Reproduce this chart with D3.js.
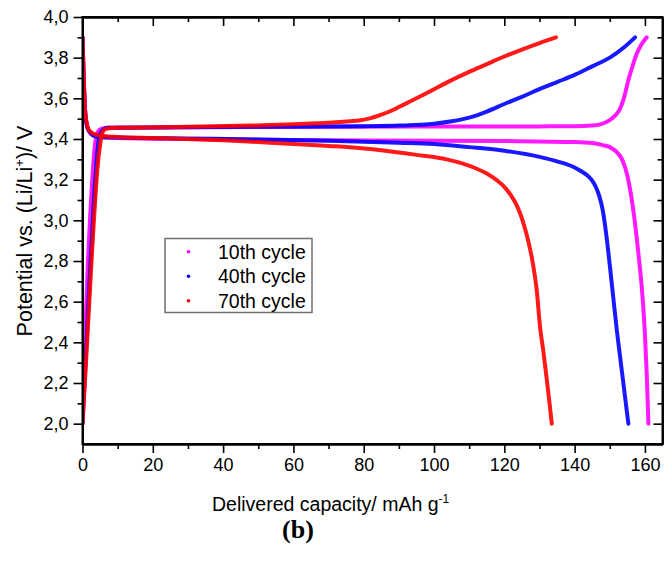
<!DOCTYPE html>
<html>
<head>
<meta charset="utf-8">
<script src="https://cdn.jsdelivr.net/npm/d3@7/dist/d3.min.js"></script>
<style>
  html, body { margin: 0; padding: 0; background: #fff; }
  svg { display: block; }
  text { font-family: "Liberation Sans", Arial, sans-serif; fill: #000; }
</style>
</head>
<body>
<svg id="chart" width="664" height="571"></svg>
<script>
// Galvanostatic charge/discharge profiles: capacity (mAh/g) vs. potential (V)
const cycles = ["10th cycle", "40th cycle", "70th cycle"];
const colors = ["#ff00ff", "#0000ff", "#ff0000"];

// charge branches [capacity, potential]
const charge10 = [[0,2.0],[0.5,2.3],[1,2.55],[1.5,2.78],[2,2.96],[2.5,3.12],[3,3.26],[3.6,3.38],[4.2,3.43],[5,3.448],[7,3.455],[20,3.457],[50,3.459],[100,3.461],[130,3.462],[140,3.463],[145,3.466],[147.3,3.472],[150,3.493],[151.5,3.515],[152.8,3.545],[154,3.6],[155.3,3.69],[156.5,3.76],[157.7,3.82],[159,3.865],[160.5,3.9]];
const charge40 = [[0,2.0],[1,2.35],[2,2.7],[3,3.02],[3.5,3.17],[4,3.29],[4.5,3.38],[5,3.425],[6,3.448],[7,3.455],[20,3.457],[50,3.46],[80,3.463],[90,3.466],[100,3.475],[105,3.487],[110,3.505],[115,3.535],[120,3.572],[125,3.607],[130,3.645],[135,3.68],[140,3.715],[145,3.757],[150,3.8],[154,3.85],[157.2,3.9]];
const charge70 = [[0,2.0],[0.5,2.15],[1,2.3],[1.5,2.46],[2,2.62],[2.5,2.78],[3,2.93],[3.5,3.07],[4,3.2],[4.5,3.3],[5,3.37],[5.5,3.42],[6,3.443],[7,3.452],[10,3.455],[30,3.46],[47.7,3.466],[60,3.472],[66.6,3.477],[72,3.482],[76,3.487],[79,3.492],[82,3.503],[85,3.52],[88,3.54],[90.3,3.56],[95,3.6],[100,3.645],[104.6,3.686],[110,3.73],[115,3.768],[118.8,3.797],[125,3.84],[130,3.872],[134.7,3.9]];

// discharge branches [capacity, potential]
const discharge10 = [[0,3.9],[0.3,3.72],[0.7,3.55],[1.2,3.47],[2,3.435],[3,3.418],[5,3.41],[10,3.405],[30,3.4],[60,3.395],[100,3.392],[120,3.39],[140,3.385],[145,3.38],[148,3.37],[150,3.36],[152,3.335],[153.5,3.3],[155,3.22],[156,3.13],[157,3.01],[158,2.86],[159,2.69],[159.5,2.58],[160,2.44],[160.5,2.25],[161,2.0]];
const discharge40 = [[0,3.9],[0.3,3.72],[0.7,3.55],[1.2,3.47],[2,3.435],[3,3.418],[5,3.41],[10,3.407],[30,3.402],[50,3.398],[70,3.392],[90,3.382],[100,3.375],[110,3.36],[120,3.342],[130,3.312],[135,3.29],[140,3.26],[142,3.24],[144,3.215],[145,3.195],[146,3.165],[147,3.12],[148,3.05],[149,2.93],[150,2.78],[151,2.62],[152,2.46],[153,2.32],[154,2.18],[155,2.04],[155.3,2.0]];
const discharge70 = [[0,3.9],[0.3,3.74],[0.7,3.55],[1.2,3.48],[2,3.44],[4,3.42],[6,3.415],[10,3.41],[20,3.405],[30,3.4],[40,3.394],[50,3.385],[60,3.376],[70,3.366],[76,3.36],[85,3.345],[95,3.322],[103.6,3.3],[108,3.28],[112,3.255],[115,3.23],[118,3.195],[120,3.165],[122,3.12],[123.5,3.075],[125,3.01],[126.5,2.92],[128,2.8],[129.2,2.66],[130.2,2.47],[131,2.37],[132,2.23],[133,2.08],[133.5,2.0]];

const series = [
  { name: cycles[0], color: colors[0], branches: [charge10, discharge10] },
  { name: cycles[1], color: colors[1], branches: [charge40, discharge40] },
  { name: cycles[2], color: colors[2], branches: [charge70, discharge70] }
];

const xTicks = [0, 20, 40, 60, 80, 100, 120, 140, 160];
const xMinor = [10, 30, 50, 70, 90, 110, 130, 150];
const yTicks = [2.0, 2.2, 2.4, 2.6, 2.8, 3.0, 3.2, 3.4, 3.6, 3.8, 4.0];
const yMinor = [2.1, 2.3, 2.5, 2.7, 2.9, 3.1, 3.3, 3.5, 3.7, 3.9];

const svg = d3.select("#chart");
const L = 82.5, R = 662.5, T = 17, B = 444;

const x = d3.scaleLinear().domain([0, 165]).range([L, R]);
const y = d3.scaleLinear().domain([1.9, 4.0]).range([B, T]);
const fmt = d => d3.format(".1f")(d).replace(".", ",");

svg.append("defs").append("clipPath").attr("id", "plot")
  .append("rect").attr("x", L).attr("y", T - 4).attr("width", R - L).attr("height", B - T + 4);

// curves
const line = d3.line().x(d => x(d[0])).y(d => y(d[1])).curve(d3.curveMonotoneX);
const g = svg.append("g").attr("clip-path", "url(#plot)");
series.forEach(s => {
  s.branches.forEach(b => {
    g.append("path").datum(b).attr("d", line)
      .attr("fill", "none").attr("stroke", s.color)
      .attr("stroke-width", 4).attr("stroke-opacity", 0.9)
      .attr("stroke-linejoin", "round").attr("stroke-linecap", "round");
  });
});

// axes: left/bottom with outward ticks and labels, top/right inward ticks only
function styleAxis(sel) {
  sel.selectAll(".domain").attr("stroke", "#000").attr("stroke-width", 2);
  sel.selectAll(".tick line").attr("stroke", "#000").attr("stroke-width", 1.6);
  sel.selectAll("text").style("font-family", "Liberation Sans, Arial, sans-serif").style("font-size", "18px");
}
const xAxis = svg.append("g").attr("transform", `translate(0,${B})`)
  .call(d3.axisBottom(x).tickValues(xTicks).tickSize(9).tickPadding(5).tickSizeOuter(0).tickFormat(d3.format("d")));
styleAxis(xAxis);
const xMin = svg.append("g").attr("transform", `translate(0,${B})`)
  .call(d3.axisBottom(x).tickValues(xMinor).tickSize(5).tickSizeOuter(0).tickFormat(""));
styleAxis(xMin);

const yAxis = svg.append("g").attr("transform", `translate(${L},0)`)
  .call(d3.axisLeft(y).tickValues(yTicks).tickSize(9).tickPadding(5).tickSizeOuter(0).tickFormat(fmt));
styleAxis(yAxis);
const yMin = svg.append("g").attr("transform", `translate(${L},0)`)
  .call(d3.axisLeft(y).tickValues(yMinor).tickSize(5).tickSizeOuter(0).tickFormat(""));
styleAxis(yMin);

const xTop = svg.append("g").attr("transform", `translate(0,${T})`)
  .call(d3.axisBottom(x).tickValues(xTicks).tickSize(9).tickSizeOuter(0).tickFormat(""));
styleAxis(xTop);
const xTopMin = svg.append("g").attr("transform", `translate(0,${T})`)
  .call(d3.axisBottom(x).tickValues(xMinor).tickSize(5).tickSizeOuter(0).tickFormat(""));
styleAxis(xTopMin);
const yRight = svg.append("g").attr("transform", `translate(${R},0)`)
  .call(d3.axisLeft(y).tickValues(yTicks).tickSize(9).tickSizeOuter(0).tickFormat(""));
styleAxis(yRight);
const yRightMin = svg.append("g").attr("transform", `translate(${R},0)`)
  .call(d3.axisLeft(y).tickValues(yMinor).tickSize(5).tickSizeOuter(0).tickFormat(""));
styleAxis(yRightMin);

// frame
svg.append("rect").attr("x", L).attr("y", T).attr("width", R - L).attr("height", B - T)
  .attr("fill", "none").attr("stroke", "#000").attr("stroke-width", 2);

// axis titles
const xt = svg.append("text").attr("x", 212).attr("y", 511).style("font-size", "19.5px");
xt.append("tspan").text("Delivered capacity/ mAh g");
xt.append("tspan").attr("dy", -8).style("font-size", "12px").text("-1");

const yt = svg.append("text").attr("transform", "translate(32,231) rotate(-90)")
  .attr("text-anchor", "middle").style("font-size", "21.5px");
yt.append("tspan").text("Potential vs. (Li/Li");
yt.append("tspan").attr("dy", -8).style("font-size", "13px").text("+");
yt.append("tspan").attr("dy", 8).text(")/ V");

// panel label
svg.append("text").attr("x", 298).attr("y", 538).attr("text-anchor", "middle")
  .style("font-family", "Liberation Serif, Times New Roman, serif")
  .style("font-size", "26px").style("font-weight", "bold").text("(b)");

// legend
const lg = svg.append("g");
lg.append("rect").attr("x", 165).attr("y", 238.5).attr("width", 147).attr("height", 74)
  .attr("fill", "#fff").attr("stroke", "#707070").attr("stroke-width", 1.5);
const rowY = [251.7, 276.2, 300.8];
series.forEach((s, i) => {
  lg.append("circle").attr("cx", 188.5).attr("cy", rowY[i]).attr("r", 1.8).attr("fill", s.color);
  lg.append("text").attr("x", 218).attr("y", rowY[i] + 7).style("font-size", "19.5px").text(s.name);
});
</script>
</body>
</html>
